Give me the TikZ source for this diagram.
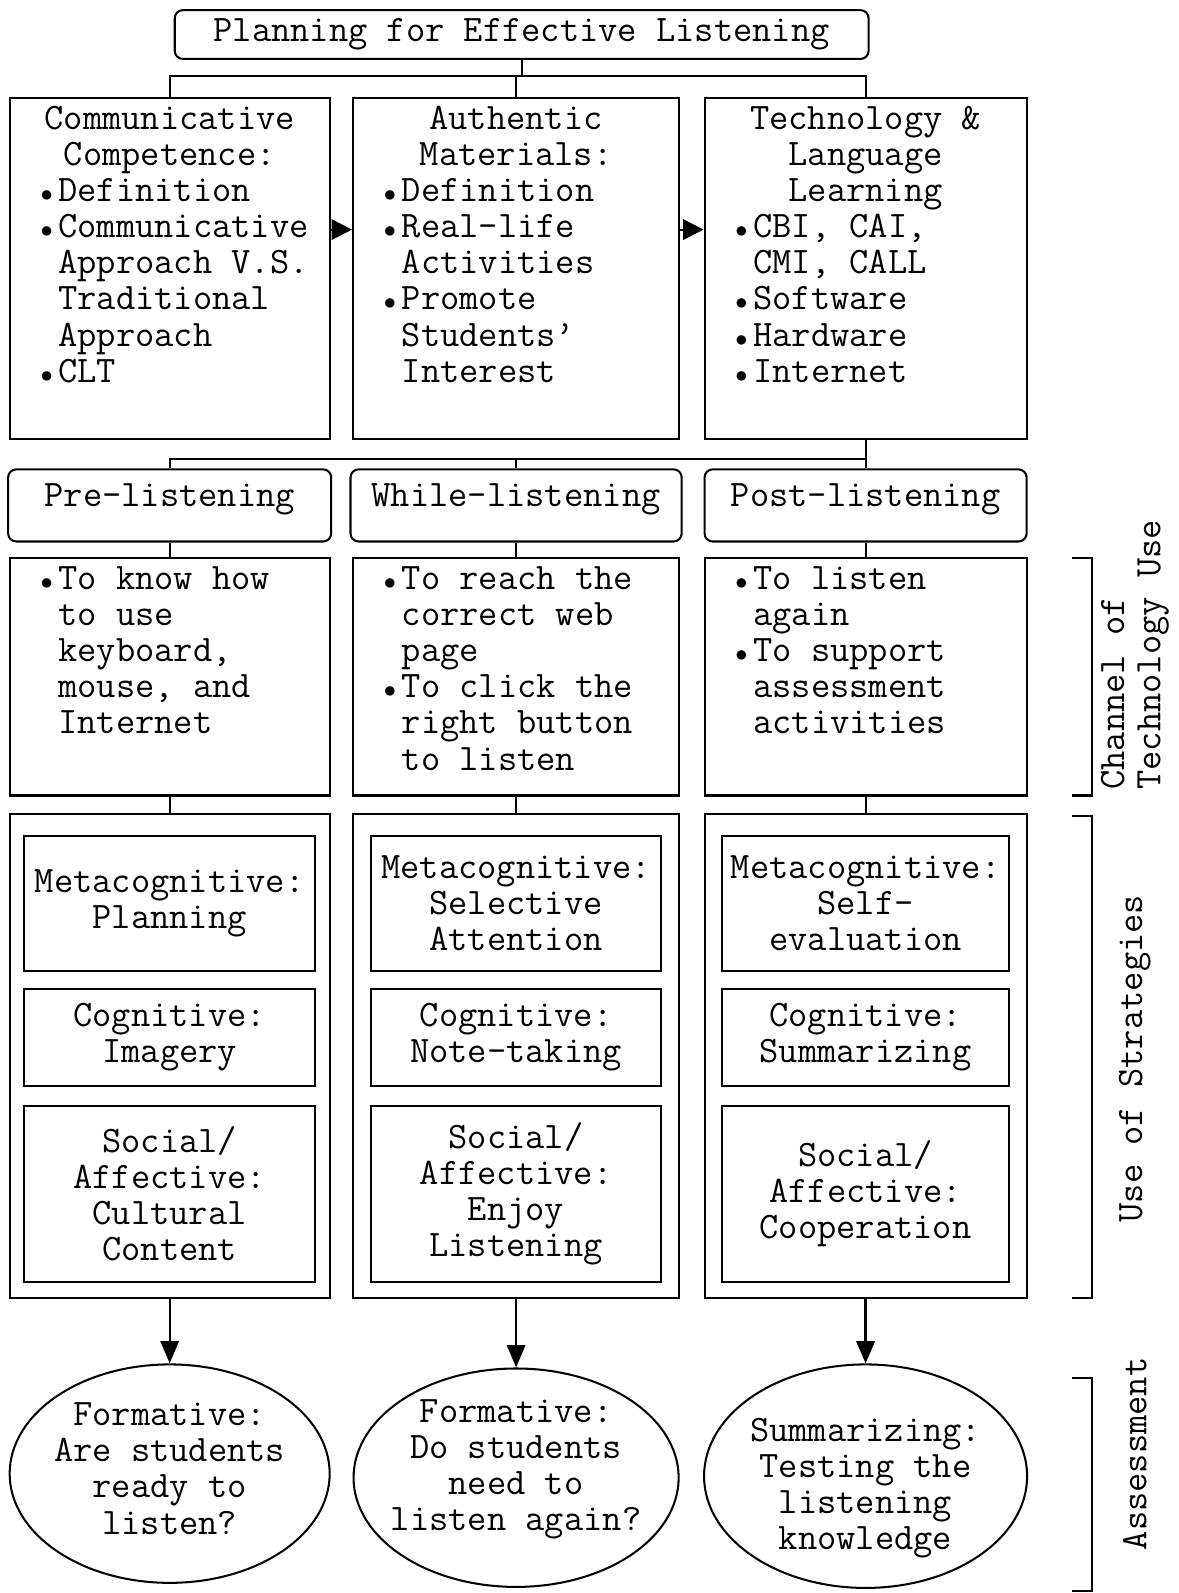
\documentclass[tikz,border=0pt]{standalone}
\usepackage{fontspec}
\usetikzlibrary{positioning,shapes.geometric,arrows.meta}
\newcommand\lbul{\leavevmode\llap{${\scriptstyle\bullet}$\kern2.8pt}}

\begin{document}
\begin{tikzpicture}[
  x=0.5pt, y=-0.5pt,
  line width=1pt,
  font=\ttfamily\fontsize{18.4pt}{17.8pt}\selectfont,
  titlebox/.style={draw,rounded corners=4pt,minimum width=341.5pt,minimum height=24pt,inner sep=0pt},
  topbox/.style={draw,inner sep=0pt,align=flush left,text width=#1,text height=15.5pt,text depth=152.5pt},
  actbox/.style={draw,inner sep=0pt,align=flush left,text width=#1,text height=15.5pt,text depth=101.5pt},
  phasebox/.style={draw,rounded corners=4pt,inner sep=0pt,minimum width=#1,text height=18.5pt,text depth=17pt},
  stratbox/.style={draw,inner sep=0pt,minimum width=#1,minimum height=238.5pt},
  innerbox/.style 2 args={draw,inner xsep=2pt,inner ysep=0pt,align=center,minimum width=#1,minimum height=#2},
  evalbox/.style 2 args={draw,ellipse,inner sep=0pt,minimum width=#1,minimum height=#2},
  sidearr/.style={-{Triangle[length=10pt,width=10pt]}},
  downarr/.style={-{Triangle[length=11pt,width=9pt]}}
]
\useasboundingbox (0,0) rectangle (1160,1568);

\node[titlebox] (title) at (513.5,34) {Planning for Effective Listening};

\node[topbox=157.5pt] (comm) at (167,264) {{\centering Communicative\\Competence:\par}\leftskip=24pt
  \lbul Definition\\\lbul Communicative\\Approach V.S.\\Traditional\\Approach\\\lbul CLT\par};
\node[topbox=160.5pt] (auth) at (508,264) {{\centering Authentic\\Materials:\par}\leftskip=24pt
  \lbul Definition\\\lbul Real-life\\Activities\\\lbul Promote\\Students’\\Interest\par};
\node[topbox=158.5pt] (tech) at (852,264) {{\centering Technology \&\\Language\\Learning\par}\leftskip=24pt
  \lbul CBI, CAI,\\CMI, CALL\\\lbul Software\\\lbul Hardware\\\lbul Internet\par};

\node[phasebox=159pt] (prel) at (167,497.5) {Pre-listening};
\node[phasebox=163pt] (whilel) at (508,497.5) {While-listening};
\node[phasebox=158.5pt] (postl) at (852,497.5) {Post-listening};

\node[actbox=157.5pt] (actA) at (167,666) {\leftskip=24pt
  \lbul To know how\\to use\\keyboard,\\mouse, and\\Internet\par};
\node[actbox=160.5pt] (actB) at (508,666) {\leftskip=24pt
  \lbul To reach the\\correct web\\page\\\lbul To click the\\right button\\to listen\par};
\node[actbox=158.5pt] (actC) at (852,666) {\leftskip=24pt
  \lbul To listen\\again\\\lbul To support\\assessment\\activities\par};

\node[stratbox=157.5pt] (stratA) at (167,1039.5) {};
\node[stratbox=160.5pt] (stratB) at (508,1039.5) {};
\node[stratbox=158.5pt] (stratC) at (852,1039.5) {};

\node[innerbox={143pt}{66.5pt}] (metaA) at (167,889) {Metacognitive:\\Planning};
\node[innerbox={143pt}{48pt}] (cogA) at (167,1021) {Cognitive:\\Imagery};
\node[innerbox={143pt}{86.5pt}] (socA) at (167,1175) {Social/\\Affective:\\Cultural\\Content};
\node[innerbox={143pt}{66.5pt}] (metaB) at (508,889) {Metacognitive:\\Selective\\Attention};
\node[innerbox={143pt}{48pt}] (cogB) at (508,1021) {Cognitive:\\Note-taking};
\node[innerbox={143pt}{86.5pt}] (socB) at (508,1175) {Social/\\Affective:\\Enjoy\\Listening};
\node[innerbox={141pt}{66.5pt}] (metaC) at (852,889) {Metacognitive:\\Self-\\evaluation};
\node[innerbox={141pt}{48pt}] (cogC) at (852,1021) {Cognitive:\\Summarizing};
\node[innerbox={141pt}{86.5pt}] (socC) at (852,1175) {Social/\\Affective:\\Cooperation};

\node[evalbox={157.5pt}{107.5pt}] (evalA) at (167,1450.5) {};
\node[evalbox={160pt}{107.5pt}] (evalB) at (508,1454.5) {};
\node[evalbox={159pt}{110pt}] (evalC) at (852,1453) {};
\node[align=center] (evalA-t) at ([yshift=2.5pt]evalA.center) {Formative:\\Are students\\ready to\\listen?};
\node[align=center] (evalB-t) at ([yshift=4pt]evalB.center) {Formative:\\Do students\\need to\\listen again?};
\node[align=center] (evalC-t) at ([yshift=-6pt]evalC.center) {Summarizing:\\Testing the\\listening\\knowledge};

\coordinate (bus1) at (508,75);
\coordinate (bus2) at (508,452);
\draw (title.south) -- (title.south |- bus1);
\draw (comm.north) |- (bus1) -| (tech.north);
\draw (auth.north) -- (bus1);
\path (comm.east |- 0,226) edge[sidearr] (auth.west |- 0,226)
(auth.east |- 0,226) edge[sidearr] (tech.west |- 0,226);
\draw (tech.south) -- (postl.north);
\draw (prel.north) |- (bus2) -| (postl.north);
\draw (whilel.north) -- (bus2);
\path (prel) edge (actA)
(whilel) edge (actB)
(postl) edge (actC)
(actA) edge (stratA)
(actB) edge (stratB)
(actC) edge (stratC);
\path (stratA) edge[downarr] (evalA)
(stratB) edge[downarr] (evalB)
(stratC) edge[downarr,line width=1.6pt] (evalC);

\draw (1055,549) -| (1075,783) -- (1055,783);
\draw (1055,803) -| (1075,1278) -- (1055,1278);
\draw (1055,1356) -| (1075,1566) -- (1055,1566);
\node[rotate=90,anchor=west,align=left] (chanlbl) at (1117,785) {Channel of\\Technology Use};
\node[rotate=90] (stratlbl) at (1117,1042) {Use of Strategies};
\node[rotate=90] (assesslbl) at (1117,1431) {Assessment};
\end{tikzpicture}
\end{document}
